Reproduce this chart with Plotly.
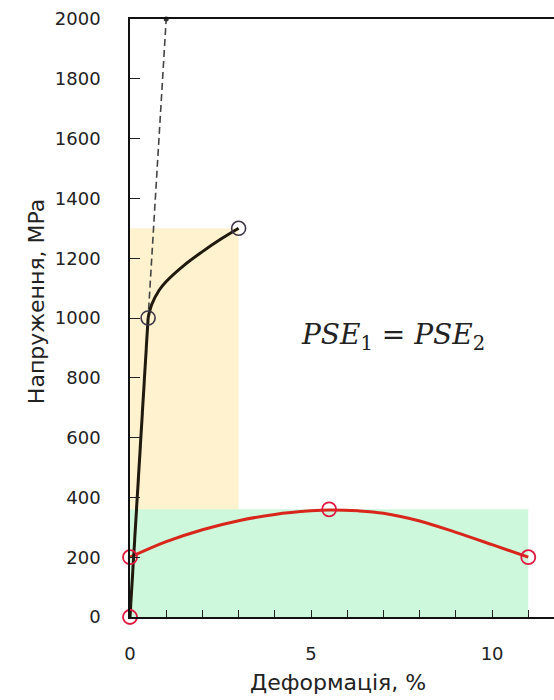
import plotly.graph_objects as go

# ---- data ----
# elastic (dashed) reference line
elastic_x = [0, 1]
elastic_y = [0, 2000]

# black curve: elastic part + plastic hardening part
black_el_x = [0, 0.5]
black_el_y = [0, 1000]
black_pl_x = [0.5, 0.6, 0.8, 1.0, 1.5, 2.0, 2.5, 3.0]
black_pl_y = [1000, 1045, 1092, 1122, 1177, 1222, 1263, 1300]
black_mk_x = [0.5, 3.0]
black_mk_y = [1000, 1300]

# red curve
red_x = [0, 1, 2, 3, 4, 5, 5.5, 6.3, 7, 8, 9, 10, 11]
red_y = [200, 252, 292, 322, 343, 355, 358, 355, 347, 321, 283, 242, 200]
red_mk_x = [0, 0, 5.5, 11]
red_mk_y = [0, 200, 360, 200]

# shaded areas (energy rectangles)
yellow_x = [0, 3]
yellow_top = 1300
green_x = [0, 11]
green_top = 360

y_ticks = [0, 200, 400, 600, 800, 1000, 1200, 1400, 1600, 1800, 2000]
x_major = [0, 5, 10]
x_minor = list(range(0, 12))

FONT = "DejaVu Sans"

fig = go.Figure()

def rect(xs, top, color):
    return go.Scatter(
        x=[xs[0], xs[1], xs[1], xs[0], xs[0]],
        y=[0, 0, top, top, 0],
        fill="toself", fillcolor=color, mode="none",
        hoverinfo="skip", showlegend=False)

fig.add_trace(rect(yellow_x, yellow_top, "#fff2cf"))
fig.add_trace(rect(green_x, green_top, "#cdf8dc"))

fig.add_trace(go.Scatter(
    x=elastic_x, y=elastic_y, mode="lines",
    line=dict(color="#444444", width=1.6, dash="7px,4px"),
    showlegend=False))
fig.add_trace(go.Scatter(
    x=elastic_x[1:], y=elastic_y[1:], mode="markers",
    marker=dict(color="#333333", size=5), cliponaxis=False,
    showlegend=False))

fig.add_trace(go.Scatter(
    x=red_x, y=red_y, mode="lines",
    line=dict(color="#d8261b", width=3, shape="spline", smoothing=1.0),
    showlegend=False))

fig.add_trace(go.Scatter(
    x=black_el_x, y=black_el_y, mode="lines",
    line=dict(color="#201a0e", width=3), cliponaxis=False,
    showlegend=False))
fig.add_trace(go.Scatter(
    x=black_pl_x, y=black_pl_y, mode="lines",
    line=dict(color="#201a0e", width=3, shape="spline", smoothing=1.0),
    showlegend=False))

fig.add_trace(go.Scatter(
    x=red_mk_x, y=red_mk_y, mode="markers",
    marker=dict(symbol="circle-open", size=14, color="#e0193f",
                line=dict(width=1.8)),
    cliponaxis=False, showlegend=False))
fig.add_trace(go.Scatter(
    x=black_mk_x, y=black_mk_y, mode="markers",
    marker=dict(symbol="circle-open", size=14, color="#3d3547",
                line=dict(width=1.6)),
    cliponaxis=False, showlegend=False))

fig.update_layout(
    width=554, height=700,
    margin=dict(l=130, r=0, t=19, b=83),
    paper_bgcolor="white", plot_bgcolor="white",
    font=dict(family=FONT, size=18, color="#222222"),
    xaxis=dict(
        range=[0, 11.71], showgrid=False, zeroline=False,
        showline=True, linecolor="#111111", linewidth=1.5, mirror=True,
        ticks="inside", ticklen=7, tickwidth=1.2, tickcolor="#222222",
        tickvals=x_major,
        minor=dict(tickvals=x_minor, ticks="inside", ticklen=7,
                   tickwidth=1.2, tickcolor="#222222", showgrid=False),
        ticklabelstandoff=20, tickfont=dict(size=18, family=FONT)),
    yaxis=dict(
        range=[0, 2000], showgrid=False, zeroline=False,
        showline=True, linecolor="#111111", linewidth=1.5,
        ticks="inside", ticklen=10, tickwidth=1.2, tickcolor="#222222",
        tickvals=y_ticks, ticklabelstandoff=24,
        tickfont=dict(size=18, family=FONT)),
    annotations=[
        dict(text="Деформація, %", xref="paper", yref="paper",
             x=0.49, y=-0.110, xanchor="center", yanchor="middle",
             showarrow=False, font=dict(size=22, family=FONT, color="#222222")),
        dict(text="Напруження, MPa", xref="paper", yref="paper",
             x=-0.222, y=0.528, xanchor="center", yanchor="middle",
             textangle=-90, showarrow=False,
             font=dict(size=22, family=FONT, color="#222222")),
        dict(text="<i>PSE</i><sub>1</sub> = <i>PSE</i><sub>2</sub>",
             xref="paper", yref="paper",
             x=(393 - 130) / 424, y=(617 - 336) / 598,
             xanchor="center", yanchor="middle", showarrow=False,
             font=dict(size=28, family="DejaVu Serif", color="#222222")),
    ],
)

fig.write_html("out.html")
